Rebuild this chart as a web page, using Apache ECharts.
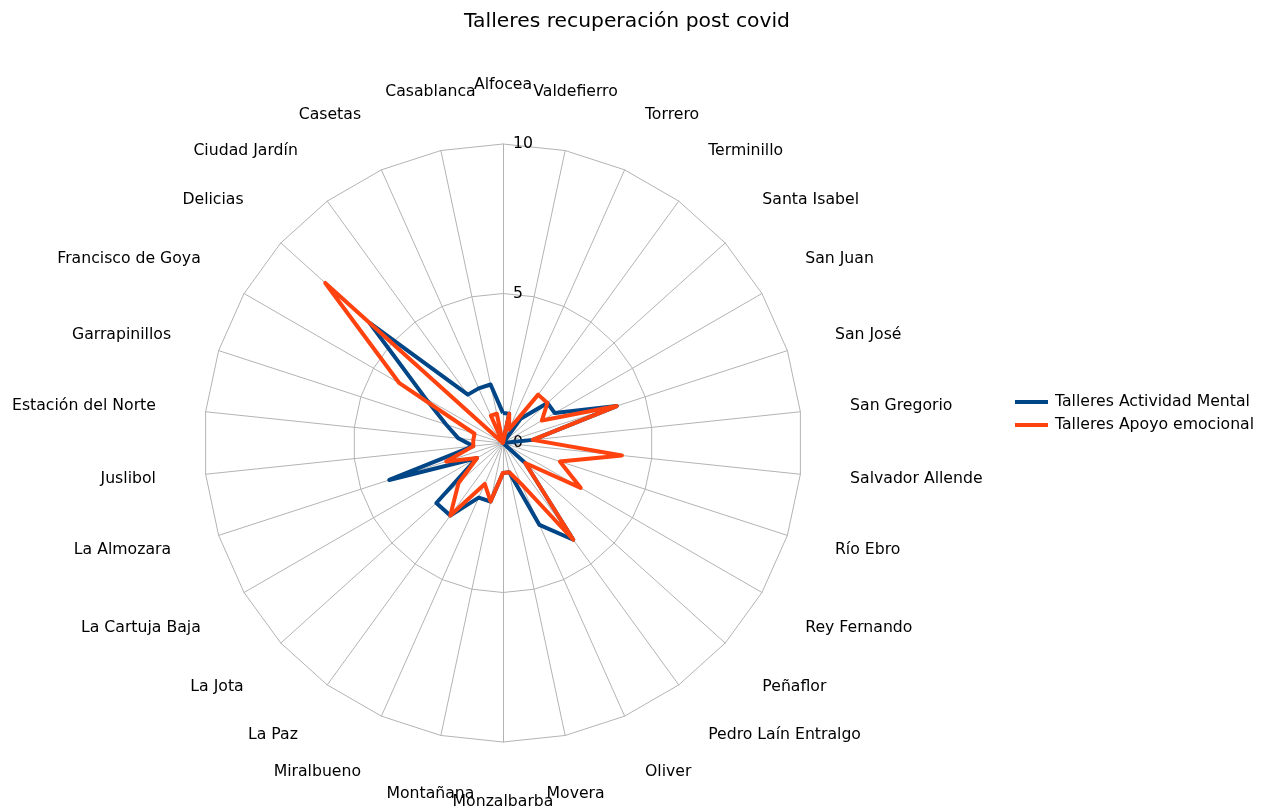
<!DOCTYPE html>
<html>
<head>
<meta charset="utf-8">
<script src="https://cdn.jsdelivr.net/npm/echarts@6/dist/echarts.min.js"></script>
<style>
  html, body { margin: 0; padding: 0; background: #fff; }
  #chart { width: 1267px; height: 812px; }
</style>
</head>
<body>
<div id="chart"></div>
<script>
// districts, listed counterclockwise from the top (ECharts radar order)
const barrios = ['Alfocea', 'Casablanca', 'Casetas', 'Ciudad Jardín', 'Delicias',
  'Francisco de Goya', 'Garrapinillos', 'Estación del Norte', 'Juslibol', 'La Almozara',
  'La Cartuja Baja', 'La Jota', 'La Paz', 'Miralbueno', 'Montañana', 'Monzalbarba',
  'Movera', 'Oliver', 'Pedro Laín Entralgo', 'Peñaflor', 'Rey Fernando', 'Río Ebro',
  'Salvador Allende', 'San Gregorio', 'San José', 'San Juan', 'Santa Isabel',
  'Terminillo', 'Torrero', 'Valdefierro'];

const actividadMental = [1, 2, 2, 2, 6, 3, 2, 1.5, 1, 4, 1, 3, 3, 2, 2, 1,
  1, 3, 4, 1, 0, 0, 0, 1, 4, 2, 2, 1, 0, 1];
const apoyoEmocional = [0, 1, 1, 0, 8, 4, 1, 1, 1, 2, 1, 2, 3, 1.5, 2, 1,
  1, 1.5, 4, 1, 3, 2, 4, 1, 4, 1.5, 2, 2, 0.5, 1];

const escalaMax = 10;

const cx = 503, cy = 443, radio = 299, separacion = 50;
const fuente = 'DejaVu Sans';
const tamLetra = 15.7;

// category names placed like the original (centred near the vertical, edge-anchored elsewhere)
const nombres = barrios.map((b, i) => {
  const a = i * 2 * Math.PI / barrios.length;
  const r = radio + separacion;
  const s = Math.sin(a), c = Math.cos(a);
  const x = cx - r * s;
  let y = cy - r * c - 0.5;
  let align = 'center';
  if (Math.abs(s) >= 0.25) align = x > cx ? 'left' : 'right';
  if (c > 0.4) y -= 9;
  else if (c < -0.4) y += 10.5;
  return {
    type: 'text',
    x: x,
    y: y,
    silent: true,
    style: {
      text: b,
      fill: '#000',
      fontFamily: fuente,
      fontSize: tamLetra,
      align: align,
      verticalAlign: 'middle'
    }
  };
});

const chart = echarts.init(document.getElementById('chart'));
chart.setOption({
  animation: false,
  textStyle: { fontFamily: fuente },
  title: {
    text: 'Talleres recuperación post covid',
    left: 622,
    textAlign: 'center',
    top: 7,
    textStyle: { fontSize: 20.3, fontWeight: 'normal', color: '#000' }
  },
  legend: {
    orient: 'vertical',
    left: 1010,
    top: 389,
    itemWidth: 33,
    itemHeight: 4,
    itemGap: 7,
    icon: 'rect',
    textStyle: { fontSize: tamLetra, color: '#000', padding: [0, 0, 0, 2] },
    data: ['Talleres Actividad Mental', 'Talleres Apoyo emocional']
  },
  graphic: nombres,
  radar: {
    center: [cx, cy],
    radius: radio,
    shape: 'polygon',
    splitNumber: 2,
    axisName: { show: false },
    axisLine: { lineStyle: { color: '#b3b3b3', width: 1 } },
    splitLine: { lineStyle: { color: '#b3b3b3', width: 1 } },
    splitArea: { show: false },
    axisTick: { show: false },
    axisLabel: { show: false },
    indicator: barrios.map((b, i) => ({
      name: b,
      min: 0,
      max: escalaMax,
      axisLabel: { show: i === 0, color: '#000', fontSize: tamLetra, margin: -10, align: 'left' }
    }))
  },
  series: [{
    type: 'radar',
    symbol: 'none',
    data: [
      {
        name: 'Talleres Actividad Mental',
        value: actividadMental,
        itemStyle: { color: '#004586' },
        lineStyle: { color: '#004586', width: 4 }
      },
      {
        name: 'Talleres Apoyo emocional',
        value: apoyoEmocional,
        itemStyle: { color: '#ff420e' },
        lineStyle: { color: '#ff420e', width: 4 }
      }
    ]
  }]
});
</script>
</body>
</html>
